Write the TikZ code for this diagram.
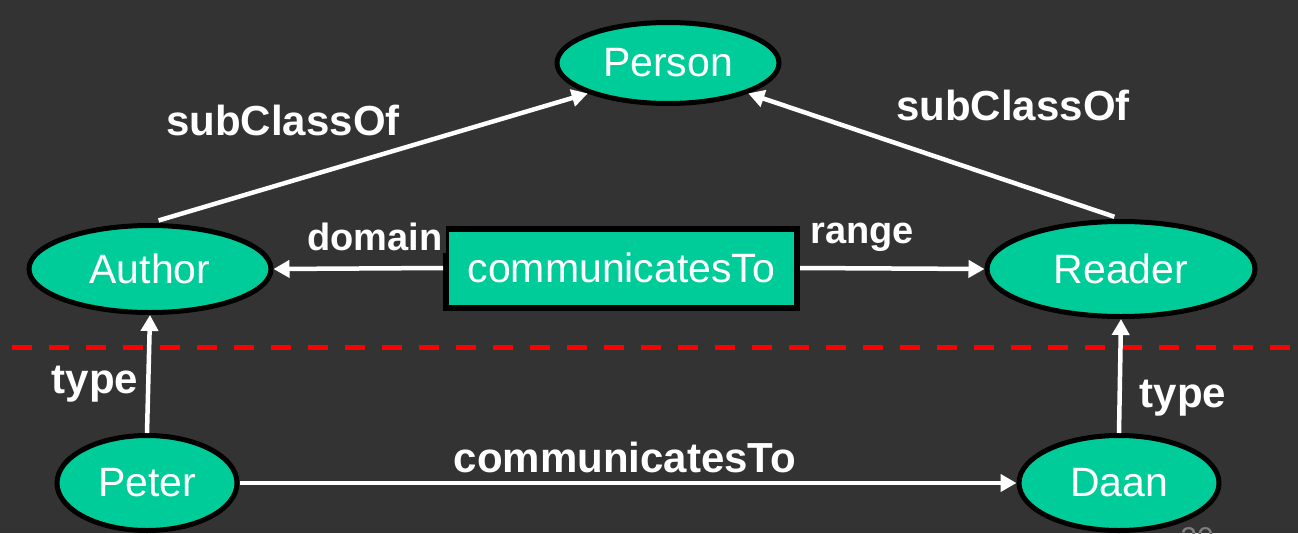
\documentclass[tikz,border=0pt]{standalone}
\usepackage{fontspec}
\setmainfont{Liberation Sans}
\usetikzlibrary{shapes.geometric,arrows.meta}
\definecolor{slidebg}{HTML}{333333}
\definecolor{nodeteal}{HTML}{00CC99}

\begin{document}
\begin{tikzpicture}[x=1pt, y=-1pt,
  class/.style={ellipse, draw=black, line width=5pt, fill=nodeteal, text=white,
    inner sep=0pt, font=\fontsize{41}{45}\selectfont},
  link/.style={draw=white, line width=4.5pt, -{Triangle[length=16pt,width=17pt]}},
  lbl/.style={text=white, anchor=base, inner sep=1pt,
    font=\fontsize{42}{46}\selectfont\bfseries}
]
\fill[slidebg] (0,0) rectangle (1298,533);
\useasboundingbox (0,0) rectangle (1298,533);

% separator between schema and instances
\coordinate (sepL) at (12,347);
\coordinate (sepR) at (1298,347);
\draw[red, line width=5pt, dash pattern=on 20pt off 17pt] (sepL) -- (sepR);

\node[class, minimum width=222pt, minimum height=81pt] (person) at (668,63) {Person};
\node[class, minimum width=242pt, minimum height=87pt] (author) at (150,269) {Author};
\node[class, minimum width=268pt, minimum height=95pt] (reader) at (1121,269) {Reader};
\node[class, minimum width=180pt, minimum height=95pt] (peter) at (147,483) {Peter};
\node[class, minimum width=200pt, minimum height=95pt] (daan) at (1119,483) {Daan};
\node[draw=black, line width=6pt, fill=nodeteal, text=white, inner sep=0pt,
  minimum width=351pt, minimum height=79pt,
  font=\fontsize{41}{45}\selectfont] (prop) at (621.5,268) {communicatesTo};

\draw[link, shorten <=9pt] (author.north) -- (person.south west);
\draw[link, shorten <=7pt] (reader.north) -- (person.south east);
\draw[link] (prop.west) -- (author.east);
\draw[link] (prop.east) -- (reader.west);
\draw[link] (peter.north) -- (author.south);
\draw[link] (daan.north) -- (reader.south);
\draw[link] (peter.east) -- (daan.west);

\node[lbl] (subL) at (283,135) {subClassOf};
\node[lbl] (subR) at (1013,120) {subClassOf};
\node[lbl, fill=slidebg, inner sep=3pt, font=\fontsize{38}{42}\selectfont\bfseries] (dom) at (375,250) {domain};
\node[lbl, font=\fontsize{38}{42}\selectfont\bfseries] (rng) at (862,243) {range};
\node[lbl] (typeL) at (95,393) {type};
\node[lbl] (typeR) at (1183,407) {type};
\node[lbl] (commL) at (625,472) {communicatesTo};
\node[text=gray, anchor=base, font=\fontsize{30}{34}\selectfont] (pagenum) at (1197,548) {20};
\end{tikzpicture}
\end{document}
